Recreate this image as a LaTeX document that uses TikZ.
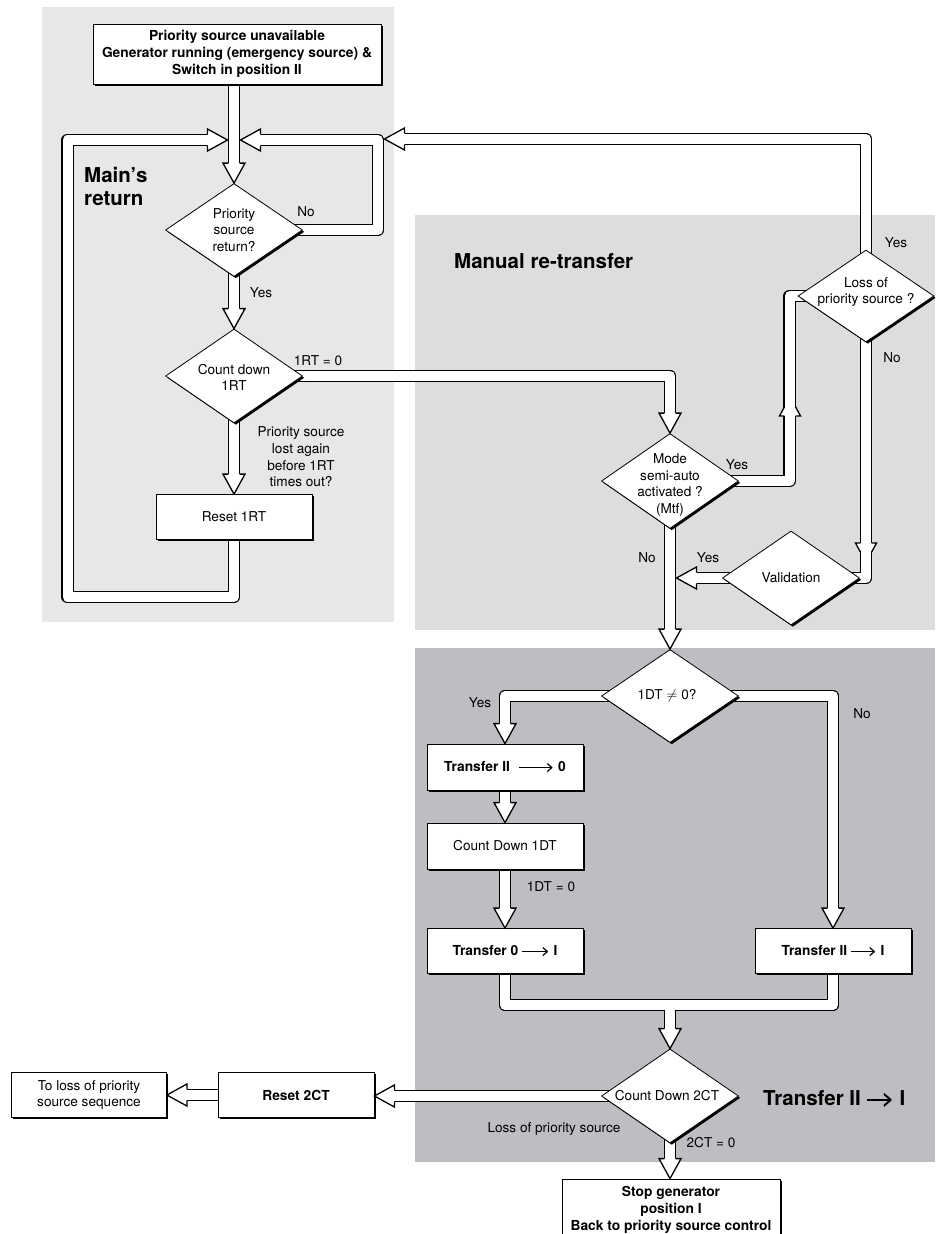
\documentclass[tikz,border=0pt]{standalone}
\usepackage{fontspec}
\setmainfont{TeX Gyre Heros}
\usetikzlibrary{shapes.geometric,shadows,calc}
\pgfdeclarelayer{panels}
\pgfdeclarelayer{pipeback}
\pgfdeclarelayer{pipefront}
\pgfsetlayers{panels,pipeback,pipefront,main}

\definecolor{panelA}{RGB}{230,231,232}
\definecolor{panelB}{RGB}{220,221,223}
\definecolor{panelC}{RGB}{189,190,193}

% long arrow used in the transfer labels
\newcommand\tarrow[1]{\raisebox{0.22em}{\rule{#1}{0.065em}}\kern-0.32em>}
% hollow pipe: black outer stroke behind, white core in front
\newcommand\pipe[1]{%
  \begin{pgfonlayer}{pipeback}\draw[pipeout] #1;\end{pgfonlayer}%
  \begin{pgfonlayer}{pipefront}\draw[pipein] #1;\end{pgfonlayer}}

\begin{document}
\begin{tikzpicture}[x=1pt,y=-1pt,
  txt/.style={font=\fontsize{13.6}{16.7}\selectfont, align=center, inner sep=0pt},
  btxt/.style={font=\bfseries\fontsize{13.8}{16.8}\selectfont, align=center, inner sep=0pt},
  title/.style={font=\bfseries\fontsize{20.5}{23.5}\selectfont, align=left, inner sep=0pt},
  boxshadow/.style={drop shadow={shadow xshift=1.8pt, shadow yshift=-1.8pt, fill=black, opacity=1}},
  box/.style={rectangle, draw=black, line width=0.8pt, fill=white, boxshadow,
    minimum width=#1, minimum height=45pt, inner sep=0pt},
  box/.default=156pt,
  dia/.style={diamond, draw=black, line width=0.8pt, fill=white, boxshadow,
    minimum width=137pt, minimum height=94pt, inner sep=0pt},
  pipeout/.style={line width=12.6pt, draw=black, line join=round},
  pipein/.style={line width=10pt, draw=white, line join=round},
  pics/head/.style={code={
    \fill[white] (-11,-20) -- (0,0) -- (11,-20) -- cycle;
    \draw[line width=1.3pt, line join=miter] (-5.65,-20) -- (-11,-20) -- (0,0) -- (11,-20) -- (5.65,-20);}},
  pics/wing/.style={code={
    \fill[white] (-5,0) -- (-10.5,0) -- (-5,9) -- cycle;
    \fill[white] (5,0) -- (10.5,0) -- (5,9) -- cycle;
    \draw[line width=1.3pt] (-5.65,0) -- (-10.5,0) -- (-5.65,9);
    \draw[line width=1.3pt] (5.65,0) -- (10.5,0) -- (5.65,9);}},
]
\useasboundingbox (0,0) rectangle (935,1234);
\clip (0,0) rectangle (935,1234);

% section panels
\begin{pgfonlayer}{panels}
  \fill[panelA] (42,7) rectangle (394,622);
  \fill[panelB] (415,215) rectangle (935,630);
  \fill[panelC] (415,648) rectangle (935,1162);
\end{pgfonlayer}

% section titles
\node[title, anchor=north west] (tMain) at (84,167) {Main’s\\return};
\node[title, anchor=north west] (tManual) at (454,253) {Manual re-transfer};
\node[title, anchor=north west] (tTrans) at (763,1090) {Transfer II \tarrow{22pt} I};

% steps and decisions
\node[box=288pt, minimum height=60pt, btxt] (start) at (237,54)
  {Priority source unavailable\\Generator running (emergency source) \&\\Switch in position II};
\node[dia, minimum height=93pt, label={[txt]center:Priority\\source\\return?}] (prio) at (234,230) {};
\node[dia, label={[txt,yshift=-1.5pt]center:Count down\\1RT}] (cnt) at (234,376) {};
\node[box, txt] (rst1) at (234,517) {Reset 1RT};
\node[dia, minimum height=95pt, label={[txt,yshift=-4pt]center:Mode\\semi-auto\\activated ?\\(Mtf)}] (mode) at (670,481) {};
\node[dia, minimum width=136pt, minimum height=92pt, label={[txt,yshift=4pt]center:Loss of\\priority source ?}] (loss) at (866,296) {};
\node[dia, label={[txt]center:Validation}] (valid) at (791,578) {};
\node[dia, minimum height=93pt, label={[txt,xshift=-3pt]center:1DT $\neq$ 0?}] (dt) at (670,696) {};
\node[box, minimum height=46pt, btxt] (tr20) at (505,767) {Transfer II\hspace{0.35em} \tarrow{32pt} 0};
\node[box, minimum height=46pt, txt] (cd1) at (505,846) {Count Down 1DT};
\node[box, btxt] (tr0I) at (505,951) {Transfer 0 \tarrow{24pt} I};
\node[box, btxt] (tr2I) at (833,951) {Transfer II \tarrow{22pt} I};
\node[dia, label={[txt,xshift=-3pt]center:Count Down 2CT}] (ct2) at (670,1096) {};
\node[box=218pt, minimum height=62pt, btxt] (stop) at (671,1210)
  {Stop generator\\position I\\Back to priority source control};
\node[box, btxt] (rst2) at (296,1095) {Reset 2CT};
\node[box=155pt, txt] (toloss) at (89,1095) {To loss of priority\\source sequence};

% junctions
\coordinate (jL) at (234,140);
\coordinate (lb) at (67.5,597);
\coordinate (rr) at (378,140);
\coordinate (mj) at (670,1005);

% main's return loop
\pipe{($(start.south -| prio.north)+(0,-3)$) -- ($(prio.north)+(0,-18)$)}
\pipe{($(rst1.south)+(0,-3)$) |- (lb) |- ($(jL)+(-24.5,0)$)}
\pipe{($(prio.east)+(-10,0)$) -| (rr) -- ($(jL)+(24.5,0)$)}
\pipe{($(prio.south)+(0,-10)$) -- ($(cnt.north)+(0,-18)$)}
\pipe{($(cnt.south)+(0,-10)$) -- ($(rst1.north)+(0,-18)$)}

% manual re-transfer
\pipe{($(cnt.east)+(-10,0)$) -| ($(mode.north)+(0,-18)$)}
\pipe{($(mode.east)+(-10,0)$) -| ($(loss.west)+(-8,0)$) -- ($(loss.west)+(10,0)$)}
\pipe{($(loss.north)+(0,10)$) |- (402.5,139)}
\pipe{($(loss.south)+(0,-10)$) |- ($(valid.east)+(-10,0)$)}
\pipe{($(valid.west)+(10,0)$) -- ($(mode.south |- valid.west)+(24.5,0)$)}
\pipe{($(mode.south)+(0,-10)$) -- ($(dt.north)+(0,-18)$)}

% transfer II -> I
\pipe{($(dt.west)+(10,0)$) -| ($(tr20.north)+(0,-18)$)}
\pipe{($(dt.east)+(-10,0)$) -| ($(tr2I.north)+(0,-18)$)}
\pipe{($(tr20.south)+(0,-3)$) -- ($(cd1.north)+(0,-18)$)}
\pipe{($(cd1.south)+(0,-3)$) -- ($(tr0I.north)+(0,-18)$)}
\pipe{($(tr0I.south)+(0,-3)$) |- (mj) -| ($(tr2I.south)+(0,-3)$)}
\pipe{(mj) -- ($(ct2.north)+(0,-18)$)}
\pipe{($(ct2.west)+(10,0)$) -- ($(rst2.east |- ct2.west)+(18,0)$)}
\pipe{($(rst2.west)+(3,0)$) -- ($(toloss.east)+(18,0)$)}
\pipe{($(ct2.south)+(0,-10)$) -- ($(ct2.south |- stop.north)+(0,-18)$)}

% arrow heads
\pic at (prio.north) {head};
\pic[rotate=90] at ($(jL)+(-6.5,0)$) {head};
\pic[rotate=-90] at ($(jL)+(6.5,0)$) {head};
\pic at (cnt.north) {head};
\pic at (rst1.north) {head};
\pic at (mode.north) {head};
\pic[rotate=-90] at (384.5,139) {head};
\pic[rotate=180] at (790,416) {wing};
\pic at (866,543) {wing};
\pic[rotate=-90] at ($(mode.south |- valid.west)+(6.5,0)$) {head};
\pic at (dt.north) {head};
\pic at (tr20.north) {head};
\pic at (tr2I.north) {head};
\pic at (cd1.north) {head};
\pic at (tr0I.north) {head};
\pic at (ct2.north) {head};
\pic[rotate=-90] at (rst2.east |- ct2.west) {head};
\pic[rotate=-90] at (toloss.east) {head};
\pic at (ct2.south |- stop.north) {head};

% branch labels
\node[txt] (lNo1) at (306,212) {No};
\node[txt] (lYes1) at (261,293) {Yes};
\node[txt] (l1RT) at (318,361) {1RT = 0};
\node[txt] (lLost) at (301,457) {Priority source\\lost again\\before 1RT\\times out?};
\node[txt] (lYes2) at (737,465) {Yes};
\node[txt] (lYes3) at (896,243) {Yes};
\node[txt] (lNo2) at (892,358) {No};
\node[txt] (lNo3) at (647,558) {No};
\node[txt] (lYes4) at (708,558) {Yes};
\node[txt] (lYes5) at (480,703) {Yes};
\node[txt] (lNo4) at (862,714) {No};
\node[txt] (l1DT) at (551,887) {1DT = 0};
\node[txt] (lLoss) at (554,1129) {Loss of priority source};
\node[txt] (l2CT) at (711,1143) {2CT = 0};
\end{tikzpicture}
\end{document}
